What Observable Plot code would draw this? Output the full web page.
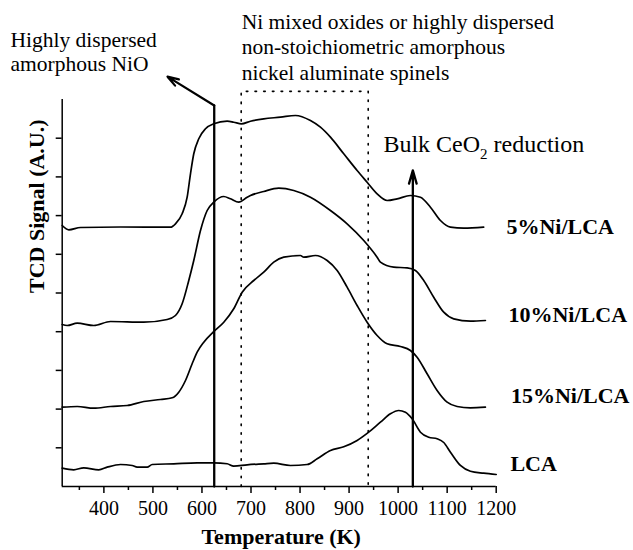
<!DOCTYPE html>
<html>
<head>
<meta charset="utf-8">
<script src="https://cdn.jsdelivr.net/npm/d3@7"></script>
<script src="https://cdn.jsdelivr.net/npm/@observablehq/plot@0.6"></script>
<style>
  body { margin: 0; background: #fff; }
</style>
</head>
<body>
<div id="chart"></div>
<script>
// ---- Data ----
const seriesNames = ["5%Ni/LCA", "10%Ni/LCA", "15%Ni/LCA", "LCA"];

const temp5 = [315, 328.5, 352.3, 433.9, 535.8, 546.0, 559.6, 569.8, 576.6, 583.3, 593.5, 607.2, 624.1, 651.4, 664.8, 680.5, 698.9, 726.0, 760.1, 790.6, 821.2, 841.6, 862.0, 889.1, 916.4, 936.8, 957.2, 977.6, 998.0, 1025.1, 1045.5, 1065.9, 1086.3, 1106.7, 1133.8, 1174.5];
const sig5  = [6.744, 6.633, 6.693, 6.705, 6.70, 6.788, 7.047, 7.475, 8.080, 8.597, 8.985, 9.243, 9.372, 9.439, 9.413, 9.372, 9.439, 9.501, 9.543, 9.587, 9.457, 9.284, 9.026, 8.597, 8.165, 7.863, 7.563, 7.390, 7.434, 7.519, 7.475, 7.217, 6.873, 6.700, 6.674, 6.700];

const temp10 = [315, 325.2, 345.6, 379.4, 413.5, 481.4, 529.1, 546.0, 559.6, 573.1, 583.3, 597.0, 610.6, 624.1, 644.5, 658.1, 675.0, 692.2, 698.9, 726.0, 756.6, 787.2, 821.2, 862.0, 896.0, 929.9, 957.2, 963.9, 991.0, 1018.4, 1035.3, 1052.2, 1072.6, 1093.0, 1113.4, 1147.4, 1178.0];
const sig10  = [4.186, 4.160, 4.220, 4.160, 4.264, 4.245, 4.315, 4.419, 4.721, 5.323, 5.840, 6.615, 7.132, 7.346, 7.494, 7.434, 7.346, 7.475, 7.519, 7.623, 7.708, 7.649, 7.475, 7.132, 6.788, 6.357, 5.925, 5.796, 5.667, 5.651, 5.581, 5.323, 4.891, 4.504, 4.333, 4.271, 4.289];

const temp15 = [315, 345.6, 379.4, 413.5, 447.5, 481.4, 515.4, 539.3, 552.7, 566.4, 580.0, 590.2, 603.7, 622.8, 644.5, 664.8, 682.0, 705.6, 726.0, 746.4, 766.8, 800.8, 807.6, 831.4, 855.3, 875.7, 896.0, 916.4, 936.8, 957.2, 977.6, 1004.7, 1025.1, 1038.7, 1059.1, 1079.5, 1099.9, 1120.3, 1147.4, 1178.0];
const sig15  = [2.049, 2.067, 2.023, 2.067, 2.093, 2.196, 2.248, 2.292, 2.437, 2.739, 3.171, 3.470, 3.729, 3.987, 4.245, 4.592, 5.021, 5.323, 5.537, 5.796, 5.925, 5.969, 5.925, 5.969, 5.840, 5.581, 5.150, 4.677, 4.245, 3.902, 3.687, 3.618, 3.514, 3.341, 2.912, 2.481, 2.178, 2.067, 2.034, 2.049];

const tempLCA = [315, 338.6, 359.0, 389.6, 406.7, 433.9, 457.7, 467.9, 488.3, 498.5, 542.5, 590.2, 624.1, 651.4, 664.8, 692.2, 726.0, 746.4, 780.4, 814.5, 834.9, 862.0, 889.1, 916.4, 940.1, 963.9, 984.3, 1001.2, 1014.9, 1028.6, 1045.5, 1062.4, 1079.5, 1093.0, 1106.7, 1127.0, 1147.4, 1174.5, 1200];
const sigLCA  = [0.473, 0.432, 0.483, 0.432, 0.499, 0.568, 0.543, 0.499, 0.499, 0.568, 0.587, 0.612, 0.612, 0.587, 0.525, 0.561, 0.587, 0.602, 0.543, 0.568, 0.716, 0.930, 1.026, 1.189, 1.403, 1.661, 1.879, 1.964, 1.920, 1.749, 1.403, 1.274, 1.233, 1.137, 0.886, 0.543, 0.395, 0.344, 0.310];

const xTicks = [400, 500, 600, 700, 800, 900, 1000, 1100, 1200];
const xMinorTicks = [350, 450, 550, 650, 750, 850, 950, 1050, 1150];
const yTicks = [1, 2, 3, 4, 5, 6, 7, 8, 9];

const noteNiO = ["Highly dispersed", "amorphous NiO"];
const noteSpinel = ["Ni mixed oxides or highly dispersed", "non-stoichiometric amorphous", "nickel aluminate spinels"];
const noteCeO2 = "Bulk CeO2 reduction";
const xTitle = "Temperature (K)";
const yTitle = "TCD Signal (A.U.)";

// ---- Layout (annotation placement, in data units) ----
const nioLineT = 625, nioBendV = 9.845, nioTipT = 529.7, nioTipV = 10.59;
const ceLineT = 1030, ceTipV = 8.17;
const boxT1 = 680, boxT2 = 939, boxTopV = 10.21;
const noteNiOPos = {x: 209.6, y: [11.344, 10.724]};
const noteSpinelPos = {x: 681, y: [11.809, 11.163, 10.491]};
const noteCeO2Pos = {x: 970, y: 8.656};
const labelPos = [
  {x: 1220.8, y: 6.512},
  {x: 1225, y: 4.238},
  {x: 1230, y: 2.145},
  {x: 1229, y: 0.413}
];

// ---- Build table ----
const allT = [temp5, temp10, temp15, tempLCA];
const allS = [sig5, sig10, sig15, sigLCA];
const rows = [];
seriesNames.forEach((name, k) => {
  allT[k].forEach((t, i) => rows.push({series: name, T: t, v: allS[k][i]}));
});
const labels = seriesNames.map((name, k) => ({name, ...labelPos[k]}));

const FONT = '"Liberation Serif", "Times New Roman", Times, serif';

const chart = Plot.plot({
  width: 633,
  height: 550,
  marginLeft: 61.7,
  marginRight: 137.3,
  marginTop: 99,
  marginBottom: 64,
  style: {fontFamily: FONT, fontSize: "20px", color: "#000", background: "#fff", overflow: "visible"},
  x: {domain: [315, 1200]},
  y: {domain: [0, 10]},
  marks: [
    // dotted box
    Plot.line([[boxT1, 0], [boxT1, boxTopV], [boxT2, boxTopV], [boxT2, 0]], {
      stroke: "#000", strokeWidth: 1.6, strokeDasharray: "1.6 7.1"
    }),
    // curves
    Plot.line(rows, {x: "T", y: "v", z: "series", curve: "monotone-x", stroke: "#000", strokeWidth: 1.7}),
    // NiO marker line and arrow
    Plot.line([[nioLineT, 0], [nioLineT, nioBendV]], {stroke: "#000", strokeWidth: 2.3}),
    Plot.arrow([0], {x1: nioLineT, y1: nioBendV, x2: nioTipT, y2: nioTipV, stroke: "#000", strokeWidth: 2.2, headAngle: 36, headLength: 8}),
    // CeO2 arrow
    Plot.arrow([0], {x1: ceLineT, y1: 0, x2: ceLineT, y2: ceTipV, stroke: "#000", strokeWidth: 2.3, headAngle: 32, headLength: 9}),
    // axes lines
    Plot.ruleX([315], {y1: 0, y2: 10, stroke: "#000", strokeWidth: 1.5}),
    Plot.ruleY([0], {x1: 315, x2: 1200, stroke: "#000", strokeWidth: 1.5}),
    Plot.axisX({ticks: xTicks, tickSize: 7, tickPadding: 7, tickFormat: (d) => String(d), fontSize: 20, fontFamily: FONT, label: null, strokeWidth: 1.5}),
    Plot.axisX({ticks: xMinorTicks, tickSize: 4, tickFormat: () => "", label: null, strokeWidth: 1.5}),
    Plot.axisY({ticks: yTicks, tickSize: 6, tickFormat: () => "", label: null, strokeWidth: 1.5}),
    // axis titles
    Plot.text([xTitle], {frameAnchor: "bottom", lineAnchor: "bottom", dx: 2, dy: 57, fontSize: 22, fontWeight: "bold", fontFamily: FONT, fill: "#000"}),
    Plot.text([yTitle], {frameAnchor: "left", lineAnchor: "middle", rotate: -90, dx: -25, fontSize: 22, fontWeight: "bold", fontFamily: FONT, fill: "#000"}),
    // annotations
    Plot.text(noteNiO, {x: noteNiOPos.x, y: (d, i) => noteNiOPos.y[i], textAnchor: "start", lineAnchor: "bottom", fontSize: 21.5, fontFamily: FONT, fill: "#000"}),
    Plot.text(noteSpinel, {x: noteSpinelPos.x, y: (d, i) => noteSpinelPos.y[i], textAnchor: "start", lineAnchor: "bottom", fontSize: 21.5, fontFamily: FONT, fill: "#000"}),
    Plot.text([noteCeO2], {x: noteCeO2Pos.x, y: noteCeO2Pos.y, textAnchor: "start", lineAnchor: "bottom", fontSize: 24, fontFamily: FONT, fill: "#000"}),
    // series labels
    Plot.text(labels, {x: "x", y: "y", text: "name", textAnchor: "start", lineAnchor: "bottom", fontSize: 22, fontWeight: "bold", fontFamily: FONT, fill: "#000"})
  ]
});

document.getElementById("chart").appendChild(chart);

// subscript in CeO2
d3.select(chart).selectAll("text").each(function () {
  if (this.textContent === noteCeO2) {
    const t = d3.select(this);
    t.text("");
    t.append("tspan").text("Bulk CeO");
    t.append("tspan").attr("dy", 7).attr("font-size", 15).text("2");
    t.append("tspan").attr("dy", -7).text(" reduction");
  }
});
</script>
</body>
</html>
